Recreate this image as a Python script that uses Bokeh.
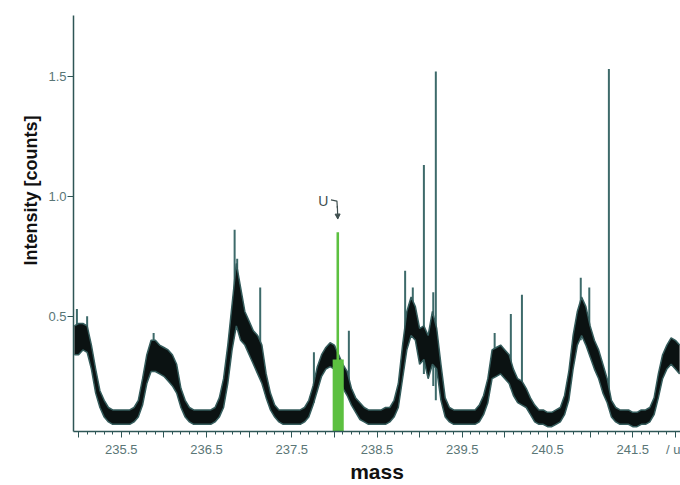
import math
from bokeh.plotting import figure
from bokeh.models import Range1d, FixedTicker, Label, Arrow, NormalHead, ColumnDataSource, Title
from bokeh.embed import file_html
from bokeh.resources import INLINE

# ---- data ----
mass = [
    234.95, 235.00, 235.05, 235.10, 235.15, 235.20, 235.25, 235.30, 235.35, 235.40,
    235.45, 235.50, 235.55, 235.60, 235.65, 235.70, 235.75, 235.80, 235.85, 235.90,
    235.95, 236.00, 236.05, 236.10, 236.15, 236.20, 236.25, 236.30, 236.35, 236.40,
    236.45, 236.50, 236.55, 236.60, 236.65, 236.70, 236.75, 236.80, 236.85, 236.90,
    236.95, 237.00, 237.05, 237.10, 237.15, 237.20, 237.25, 237.30, 237.35, 237.40,
    237.45, 237.50, 237.55, 237.60, 237.65, 237.70, 237.75, 237.80, 237.85, 237.90,
    237.95, 238.00, 238.05, 238.10, 238.15, 238.20, 238.25, 238.30, 238.35, 238.40,
    238.45, 238.50, 238.55, 238.60, 238.65, 238.70, 238.75, 238.80, 238.85, 238.90,
    238.95, 239.00, 239.05, 239.10, 239.15, 239.20, 239.25, 239.30, 239.35, 239.40,
    239.45, 239.50, 239.55, 239.60, 239.65, 239.70, 239.75, 239.80, 239.85, 239.90,
    239.95, 240.00, 240.05, 240.10, 240.15, 240.20, 240.25, 240.30, 240.35, 240.40,
    240.45, 240.50, 240.55, 240.60, 240.65, 240.70, 240.75, 240.80, 240.85, 240.90,
    240.95, 241.00, 241.05, 241.10, 241.15, 241.20, 241.25, 241.30, 241.35, 241.40,
    241.45, 241.50, 241.55, 241.60, 241.65, 241.70, 241.75, 241.80, 241.85, 241.90,
    241.95, 242.00, 242.05,
]
intensity_low = [
    0.34, 0.34, 0.36, 0.35, 0.28, 0.18, 0.12, 0.08, 0.06, 0.05,
    0.05, 0.05, 0.05, 0.05, 0.06, 0.08, 0.13, 0.22, 0.27, 0.27,
    0.26, 0.25, 0.23, 0.21, 0.18, 0.12, 0.08, 0.06, 0.05, 0.05,
    0.05, 0.05, 0.05, 0.06, 0.08, 0.12, 0.22, 0.36, 0.46, 0.40,
    0.38, 0.34, 0.30, 0.26, 0.22, 0.16, 0.11, 0.08, 0.06, 0.05,
    0.05, 0.05, 0.05, 0.05, 0.06, 0.08, 0.13, 0.19, 0.25, 0.28,
    0.29, 0.28, 0.25, 0.20, 0.17, 0.13, 0.10, 0.07, 0.06, 0.05,
    0.05, 0.05, 0.05, 0.05, 0.06, 0.08, 0.12, 0.24, 0.36, 0.42,
    0.40, 0.30, 0.32, 0.24, 0.30, 0.28, 0.15, 0.08, 0.06, 0.05,
    0.05, 0.05, 0.05, 0.05, 0.05, 0.06, 0.09, 0.14, 0.24, 0.25,
    0.26, 0.24, 0.22, 0.17, 0.14, 0.13, 0.12, 0.09, 0.06, 0.05,
    0.05, 0.04, 0.04, 0.05, 0.06, 0.09, 0.15, 0.28, 0.38, 0.42,
    0.38, 0.33, 0.28, 0.24, 0.18, 0.14, 0.08, 0.06, 0.05, 0.05,
    0.05, 0.04, 0.04, 0.05, 0.05, 0.06, 0.09, 0.16, 0.24, 0.28,
    0.30, 0.28, 0.26,
]
intensity_high = [
    0.46, 0.47, 0.47, 0.46, 0.38, 0.28, 0.19, 0.15, 0.12, 0.11,
    0.11, 0.11, 0.11, 0.11, 0.12, 0.15, 0.24, 0.34, 0.40, 0.40,
    0.38, 0.37, 0.36, 0.34, 0.30, 0.20, 0.15, 0.12, 0.11, 0.11,
    0.11, 0.11, 0.11, 0.12, 0.16, 0.24, 0.38, 0.55, 0.72, 0.62,
    0.52, 0.48, 0.44, 0.42, 0.38, 0.26, 0.18, 0.13, 0.11, 0.11,
    0.11, 0.11, 0.11, 0.11, 0.12, 0.15, 0.21, 0.29, 0.34, 0.37,
    0.39, 0.38, 0.34, 0.30, 0.27, 0.20, 0.16, 0.14, 0.12, 0.11,
    0.11, 0.11, 0.11, 0.12, 0.12, 0.15, 0.22, 0.38, 0.52, 0.58,
    0.54, 0.45, 0.46, 0.42, 0.52, 0.45, 0.30, 0.16, 0.12, 0.11,
    0.11, 0.11, 0.11, 0.11, 0.11, 0.13, 0.17, 0.24, 0.36, 0.37,
    0.38, 0.36, 0.34, 0.28, 0.24, 0.23, 0.20, 0.16, 0.13, 0.11,
    0.11, 0.10, 0.10, 0.11, 0.12, 0.17, 0.27, 0.42, 0.52, 0.58,
    0.54, 0.46, 0.40, 0.36, 0.30, 0.24, 0.15, 0.12, 0.11, 0.11,
    0.11, 0.10, 0.10, 0.11, 0.11, 0.12, 0.16, 0.26, 0.34, 0.38,
    0.41, 0.40, 0.38,
]
spike_mass = [234.98, 235.10, 235.88, 236.83, 236.86, 237.13, 237.76, 238.17,
              238.83, 238.92, 239.05, 239.16, 239.19, 239.88, 240.07, 240.20,
              240.89, 240.99, 241.22]
spike_top = [0.53, 0.50, 0.43, 0.86, 0.74, 0.62, 0.35, 0.44,
             0.69, 0.62, 1.13, 0.60, 1.52, 0.43, 0.51, 0.59,
             0.66, 0.62, 1.53]
spike_base = [0.36, 0.36, 0.30, 0.45, 0.45, 0.27, 0.14, 0.17,
              0.36, 0.42, 0.26, 0.21, 0.15, 0.25, 0.20, 0.14,
              0.40, 0.35, 0.12]

u_window = [237.98, 238.11]      # highlighted 238U mass window
u_window_top = 0.32
u_peak_mass = [238.025, 238.055]
u_peak_top = 0.85

x_major = [235.0, 235.5, 236.0, 236.5, 237.0, 237.5, 238.0, 238.5,
           239.0, 239.5, 240.0, 240.5, 241.0, 241.5, 242.0]
x_labels = ["", "235.5", "", "236.5", "", "237.5", "", "238.5",
            "", "239.5", "", "240.5", "", "241.5", "/ u"]
y_major = [0.5, 1.0, 1.5]
y_labels = ["0.5", "1.0", "1.5"]

# ---- figure ----
AX = "#2e5656"
TXT = "#5a7676"
FONT = "Liberation Sans"

p = figure(width=680, height=485, output_backend="svg", toolbar_location=None,
           x_range=Range1d(234.94, 242.06), y_range=Range1d(0.02, 1.753),
           min_border_left=73, min_border_right=0, min_border_top=15,
           min_border_bottom=54)
p.outline_line_color = None
p.xgrid.visible = False
p.ygrid.visible = False

minor = [round(234.9 + 0.1 * i, 1) for i in range(73)]
p.xaxis.ticker = FixedTicker(ticks=x_major, minor_ticks=minor)
p.xaxis.major_label_overrides = {t: l for t, l in zip(x_major, x_labels)}
p.yaxis.ticker = FixedTicker(ticks=y_major)
p.yaxis.major_label_overrides = {t: l for t, l in zip(y_major, y_labels)}

for ax in (p.xaxis[0], p.yaxis[0]):
    ax.axis_line_color = AX
    ax.axis_line_width = 1.5
    ax.major_tick_line_color = AX
    ax.minor_tick_line_color = AX
    ax.major_tick_in = 0
    ax.minor_tick_in = 0
    ax.major_label_text_color = TXT
    ax.major_label_text_font = FONT
    ax.major_label_text_font_size = "13px"
p.xaxis.major_tick_out = 6
p.xaxis.minor_tick_out = 3
p.yaxis.major_tick_out = 6
p.yaxis.minor_tick_line_color = None
p.xaxis.major_label_standoff = 4
p.yaxis.major_label_standoff = 1

p.xaxis.axis_label = "mass"
p.xaxis.axis_label_standoff = 0
p.xaxis.axis_label_text_font = FONT
p.xaxis.axis_label_text_font_style = "bold"
p.xaxis.axis_label_text_font_size = "21px"
p.xaxis.axis_label_text_color = "#111111"

src = ColumnDataSource(dict(mass=mass, lo=intensity_low, hi=intensity_high))
p.segment(x0=spike_mass, y0=spike_base, x1=spike_mass, y1=spike_top,
          line_color="#3d6a6a", line_width=2)
p.varea(x="mass", y1="lo", y2="hi", source=src, fill_color="#0b1212")
p.line(x="mass", y="hi", source=src, line_color="#355c5c", line_width=1.5)
p.line(x="mass", y="lo", source=src, line_color="#355c5c", line_width=1.5)

p.quad(left=[u_window[0]], right=[u_window[1]], bottom=[0.02], top=[u_window_top],
       fill_color="#5cc040", line_color=None)
p.quad(left=[u_peak_mass[0]], right=[u_peak_mass[1]], bottom=[0.02], top=[u_peak_top],
       fill_color="#5cc040", line_color=None)

p.add_layout(Label(x=237.87, y=0.945, text="U", text_font=FONT,
                   text_font_size="14px", text_color="#3e4e4e", text_align="center"))
p.line(x=[237.96, 238.03, 238.035], y=[0.985, 0.98, 0.95], line_color="#3e4e4e", line_width=1.2)
p.add_layout(Arrow(x_start=238.035, y_start=0.96, x_end=238.04, y_end=0.905,
                   line_color="#3e4e4e", line_width=1.2,
                   end=NormalHead(size=5, fill_color="#3e4e4e", line_color="#3e4e4e")))

p.add_layout(Title(text="Intensity [counts]", align="right", offset=100,
                   text_font=FONT, text_font_style="bold", text_font_size="18px",
                   text_color="#111111"), "left")

open("out.html", "w").write(file_html(p, INLINE))
